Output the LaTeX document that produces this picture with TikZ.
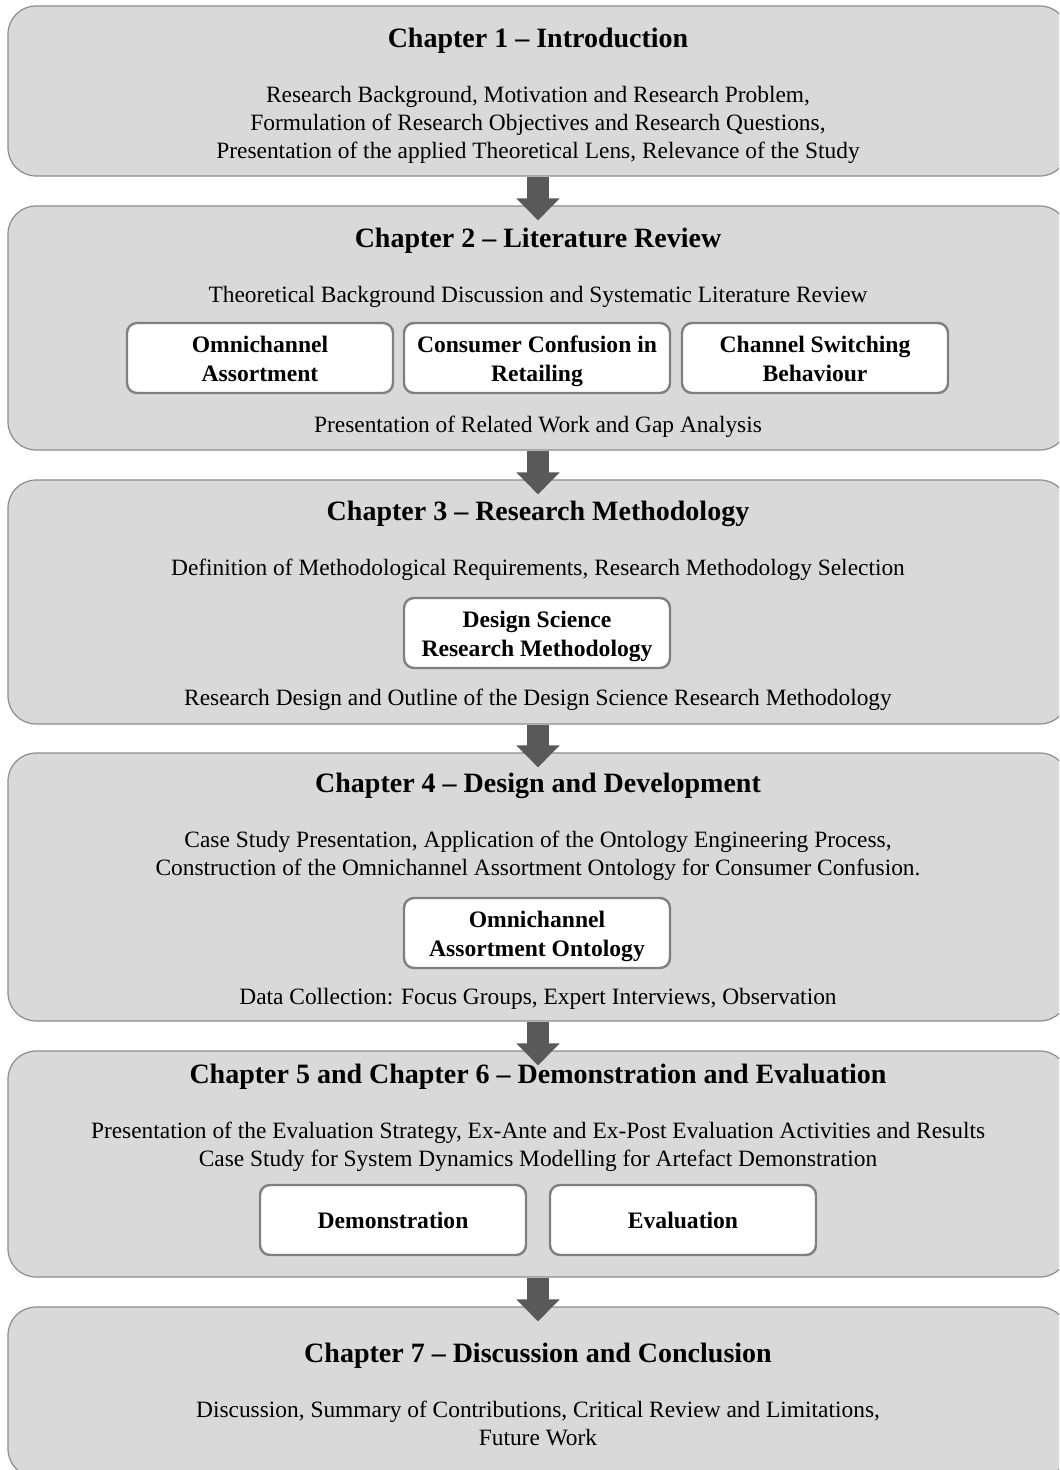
\documentclass[tikz,border=0pt]{standalone}
\usepackage{fontspec}
\setmainfont{Liberation Serif}
\usetikzlibrary{arrows.meta}
\definecolor{chapfill}{HTML}{D9D9D9}
\definecolor{chapline}{HTML}{8C8C8C}
\definecolor{flowcol}{HTML}{595959}
\definecolor{itemline}{HTML}{7F7F7F}
\begin{document}
\begin{tikzpicture}[x=0.5pt,y=-0.5pt,
  chapbox/.style={draw=chapline, fill=chapfill, line width=0.6pt,
    rounded corners=14pt, minimum width=530pt, inner sep=0pt},
  chaptitle/.style={font=\fontsize{14}{16}\selectfont\bfseries, inner sep=0pt},
  chaptext/.style={font=\fontsize{11.7}{14}\selectfont, align=center, inner sep=0pt},
  itembox/.style={draw=itemline, fill=white, line width=1.2pt, rounded corners=5pt,
    minimum width=133pt, minimum height=35pt, inner sep=0pt},
  itemtext/.style={font=\fontsize{11.8}{14.2}\selectfont\bfseries, align=center,
    inner sep=0pt, yshift=-1.6pt},
  flow/.style={draw=flowcol, line width=11pt, -{Triangle[width=21pt,length=11pt]}}]
\useasboundingbox (0,0) rectangle (1059,1470);
\clip (0,0) rectangle (1059,1470);

% chapter panels
\node[chapbox, minimum height=85pt]  (c1) at (538,91) {};
\node[chapbox, minimum height=122pt] (c2) at (538,328) {};
\node[chapbox, minimum height=122pt] (c3) at (538,602) {};
\node[chapbox, minimum height=134pt] (c4) at (538,887) {};
\node[chapbox, minimum height=113pt] (c5) at (538,1164) {};
\node[chapbox, minimum height=85pt]  (c6) at (538,1392) {};

% flow between chapters
\foreach \a/\b in {c1/c2,c2/c3,c3/c4,c4/c5,c5/c6}
  \draw[flow] (\a.south) -- ([yshift=-7.5pt]\b.north);

% Chapter 1
\node[chaptitle] (t1) at (538,41) {Chapter 1 – Introduction};
\node[chaptext] (b1) at (538,125) {Research Background, Motivation and Research Problem,\\
  Formulation of Research Objectives and Research Questions,\\
  Presentation of the applied Theoretical Lens, Relevance of the Study};

% Chapter 2
\node[chaptitle] (t2) at (538,241) {Chapter 2 – Literature Review};
\node[chaptext] (b2a) at (538,297) {Theoretical Background Discussion and Systematic Literature Review};
\node[itembox] (i2a) at (260,358) {};
\node[itemtext] (l2a) at (i2a.center) {\strut Omnichannel\\\strut Assortment};
\node[itembox] (i2b) at (537,358) {};
\node[itemtext] (l2b) at (i2b.center) {\strut Consumer Confusion in\\\strut Retailing};
\node[itembox] (i2c) at (815,358) {};
\node[itemtext] (l2c) at (i2c.center) {\strut Channel Switching\\\strut Behaviour};
\node[chaptext] (b2b) at (538,427) {Presentation of Related Work and Gap Analysis};

% Chapter 3
\node[chaptitle] (t3) at (538,514) {Chapter 3 – Research Methodology};
\node[chaptext] (b3a) at (538,570) {Definition of Methodological Requirements, Research Methodology Selection};
\node[itembox] (i3) at (537,633) {};
\node[itemtext] (l3) at (i3.center) {\strut Design Science\\\strut Research Methodology};
\node[chaptext] (b3b) at (538,700) {Research Design and Outline of the Design Science Research Methodology};

% Chapter 4
\node[chaptitle] (t4) at (538,786) {Chapter 4 – Design and Development};
\node[chaptext] (b4a) at (538,856) {Case Study Presentation, Application of the Ontology Engineering Process,\\
  Construction of the Omnichannel Assortment Ontology for Consumer Confusion.};
\node[itembox] (i4) at (537,933) {};
\node[itemtext] (l4) at (i4.center) {\strut Omnichannel\\\strut Assortment Ontology};
\node[chaptext] (b4b) at (538,999) {Data Collection: Focus Groups, Expert Interviews, Observation};

% Chapters 5 and 6
\node[chaptitle] (t5) at (538,1077) {Chapter 5 and Chapter 6 – Demonstration and Evaluation};
\node[chaptext] (b5) at (538,1147) {Presentation of the Evaluation Strategy, Ex-Ante and Ex-Post Evaluation Activities and Results\\
  Case Study for System Dynamics Modelling for Artefact Demonstration};
\node[itembox] (i5a) at (393,1220) {};
\node[itemtext] (l5a) at (i5a.center) {\strut Demonstration};
\node[itembox] (i5b) at (683,1220) {};
\node[itemtext] (l5b) at (i5b.center) {\strut Evaluation};

% Chapter 7
\node[chaptitle] (t6) at (538,1356) {Chapter 7 – Discussion and Conclusion};
\node[chaptext] (b6) at (538,1423) {Discussion, Summary of Contributions, Critical Review and Limitations,\\
  Future Work};
\end{tikzpicture}
\end{document}
